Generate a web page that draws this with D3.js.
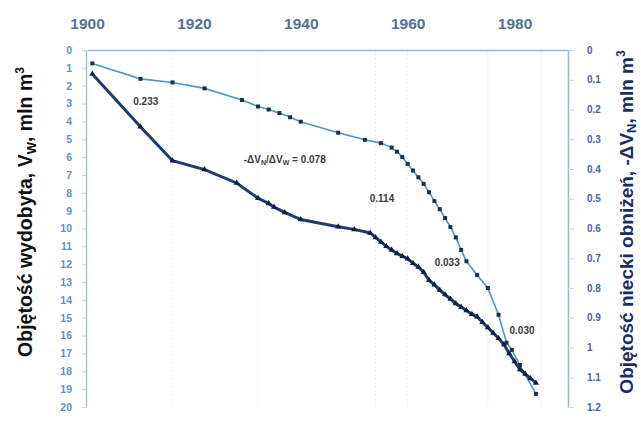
<!DOCTYPE html>
<html><head><meta charset="utf-8">
<script src="https://cdn.jsdelivr.net/npm/d3@7"></script>
<style>body{margin:0;background:#fff}svg{display:block}text{font-family:"Liberation Sans",Arial,sans-serif}</style>
</head><body>
<script>
// Data
const yearTicks = [1900, 1920, 1940, 1960, 1980];
const leftTicks = d3.range(0, 21, 1);
const rightTicks = [0, 0.1, 0.2, 0.3, 0.4, 0.5, 0.6, 0.7, 0.8, 0.9, 1, 1.1, 1.2];
const rightTickLabels = ["0","0.1","0.2","0.3","0.4","0.5","0.6","0.7","0.8","0.9","1","1.1","1.2"];

// Extracted volume V_W (left axis)
const wYears = [1901,1910,1916,1922,1928,1932,1934,1935,1937,1940,1947,1950,1953,1954,1955,1956,1957,1958,1959,1960,1961,1962,1963,1964,1965,1966,1967,1968,1969,1970,1971,1972,1973,1974,1975,1976,1977,1978,1979,1980,1981,1982,1983,1984];
const wValues = [1.35,4.3,6.2,6.7,7.45,8.3,8.6,8.8,9.1,9.5,9.9,10.05,10.25,10.5,10.75,11.0,11.2,11.4,11.55,11.7,11.95,12.15,12.45,12.9,13.15,13.45,13.7,13.95,14.2,14.4,14.6,14.8,14.95,15.25,15.55,15.85,16.15,16.5,17.0,17.45,17.9,18.15,18.4,18.65];

// Subsidence basin volume -ΔV_N (right axis)
const nYears = [1901,1910,1916,1922,1929,1932,1934,1936,1938,1940,1947,1952,1955,1957,1958,1959,1960,1961,1962,1963,1964,1965,1966,1967,1968,1969,1970,1971,1973,1975,1977,1978.5,1979.5,1981,1984];
const nValues = [0.045,0.097,0.109,0.129,0.168,0.19,0.2,0.212,0.226,0.241,0.278,0.302,0.313,0.328,0.342,0.36,0.383,0.405,0.428,0.45,0.478,0.508,0.535,0.565,0.595,0.63,0.672,0.71,0.756,0.8,0.89,0.984,1.008,1.059,1.156];

const ratioLabels = ["0.233", "0.114", "0.033", "0.030"];
const ratioPos = [[1911, 3.1], [1955.2, 8.5], [1967.4, 12.1], [1981.4, 15.9]];

const W = 641, H = 421;
const svg = d3.select("body").append("svg").attr("width", W).attr("height", H);

const x = d3.scaleLinear().domain([1900, 1990]).range([87, 568]);
const yL = d3.scaleLinear().domain([0, 20]).range([50, 407]);
const yR = d3.scaleLinear().domain([0, 1.2]).range([50, 407]);

const axisCol = "#8fb8d8";

// faint vertical gridlines
const gridYears = [1916, 1932, 1954, 1960, 1975, 1985];
svg.append("g").selectAll("line").data(gridYears).join("line")
  .attr("x1", d => x(d)).attr("x2", d => x(d))
  .attr("y1", 50).attr("y2", 407)
  .attr("stroke", "#e6f0f8").attr("stroke-width", 1).attr("stroke-dasharray", "2,2");

// top axis (years)
const topAxis = svg.append("g").attr("transform", "translate(0,50)")
  .call(d3.axisTop(x).tickValues(yearTicks).tickFormat(d3.format("d")).tickSize(0).tickPadding(21));
topAxis.select(".domain").attr("stroke", axisCol).attr("stroke-width", 1.5);
topAxis.selectAll("text").attr("font-size", 15.5).attr("font-weight", "bold").attr("fill", "#56718e");

// left axis
const leftAxis = svg.append("g").attr("transform", "translate(86,0)")
  .call(d3.axisLeft(yL).tickValues(leftTicks).tickSize(4).tickPadding(10).tickSizeOuter(0));
leftAxis.select(".domain").attr("stroke", axisCol).attr("stroke-width", 1.2);
leftAxis.selectAll(".tick line").attr("stroke", "#c4d9ea");
leftAxis.selectAll("text").attr("font-size", 10.5).attr("font-weight", "bold").attr("fill", "#6491bb");

// right axis
const rightAxis = svg.append("g").attr("transform", "translate(568,0)")
  .call(d3.axisRight(yR).tickValues(rightTicks).tickFormat((d, i) => rightTickLabels[i]).tickSize(6).tickPadding(13).tickSizeOuter(0));
rightAxis.select(".domain").attr("stroke", axisCol).attr("stroke-width", 1.5);
rightAxis.selectAll(".tick line").attr("stroke", "#c4d9ea");
rightAxis.selectAll("text").attr("font-size", 10).attr("font-weight", "bold").attr("fill", "#45679a");

// thin line: -ΔV_N
const nData = nYears.map((d, i) => [d, nValues[i]]);
svg.append("path").datum(nData)
  .attr("fill", "none").attr("stroke", "#4f97c2").attr("stroke-width", 1.6)
  .attr("d", d3.line().x(d => x(d[0])).y(d => yR(d[1])));
svg.append("g").selectAll("rect").data(nData).join("rect")
  .attr("x", d => x(d[0]) - 2).attr("y", d => yR(d[1]) - 2)
  .attr("width", 4).attr("height", 4).attr("fill", "#1f3045");

// thick line: V_W
const wData = wYears.map((d, i) => [d, wValues[i]]);
svg.append("path").datum(wData)
  .attr("fill", "none").attr("stroke", "#1e3a72").attr("stroke-width", 3)
  .attr("d", d3.line().x(d => x(d[0])).y(d => yL(d[1])));
svg.append("g").selectAll("path").data(wData).join("path")
  .attr("transform", d => `translate(${x(d[0])},${yL(d[1])})`)
  .attr("d", d3.symbol(d3.symbolTriangle, 16))
  .attr("fill", "#0f1f3c");

// annotations
svg.append("g").selectAll("text").data(ratioLabels).join("text")
  .attr("x", (d, i) => x(ratioPos[i][0])).attr("y", (d, i) => yL(ratioPos[i][1]))
  .attr("text-anchor", "middle").attr("font-size", 10).attr("font-weight", "bold")
  .attr("fill", "#3a3a3a").text(d => d);

const f = svg.append("text").attr("x", x(1937)).attr("y", yL(6.35))
  .attr("text-anchor", "middle").attr("font-size", 10).attr("font-weight", "bold").attr("fill", "#3a3a3a");
f.append("tspan").text("-ΔV");
f.append("tspan").attr("font-size", 7).attr("dy", 2).text("N");
f.append("tspan").attr("dy", -2).text("/ΔV");
f.append("tspan").attr("font-size", 7).attr("dy", 2).text("W");
f.append("tspan").attr("dy", -2).text(" = 0.078");

// axis titles
const lt = svg.append("text").attr("transform", "translate(32,212) rotate(-90)")
  .attr("text-anchor", "middle").attr("font-size", 19.5).attr("font-weight", "bold").attr("fill", "#111");
lt.append("tspan").text("Objętość wydobyta, V");
lt.append("tspan").attr("font-size", 13).attr("dy", 4).text("W");
lt.append("tspan").attr("dy", -4).text(", mln m");
lt.append("tspan").attr("font-size", 12).attr("dy", -8).text("3");

const rt = svg.append("text").attr("transform", "translate(633,222) rotate(-90)")
  .attr("text-anchor", "middle").attr("font-size", 19).attr("font-weight", "bold").attr("fill", "#1c2d66");
rt.append("tspan").text("Objętość niecki obniżeń, -ΔV");
rt.append("tspan").attr("font-size", 13).attr("dy", 3).text("N");
rt.append("tspan").attr("dy", -3).text(", mln m");
rt.append("tspan").attr("font-size", 12).attr("dy", -8).text("3");
</script>
</body></html>
